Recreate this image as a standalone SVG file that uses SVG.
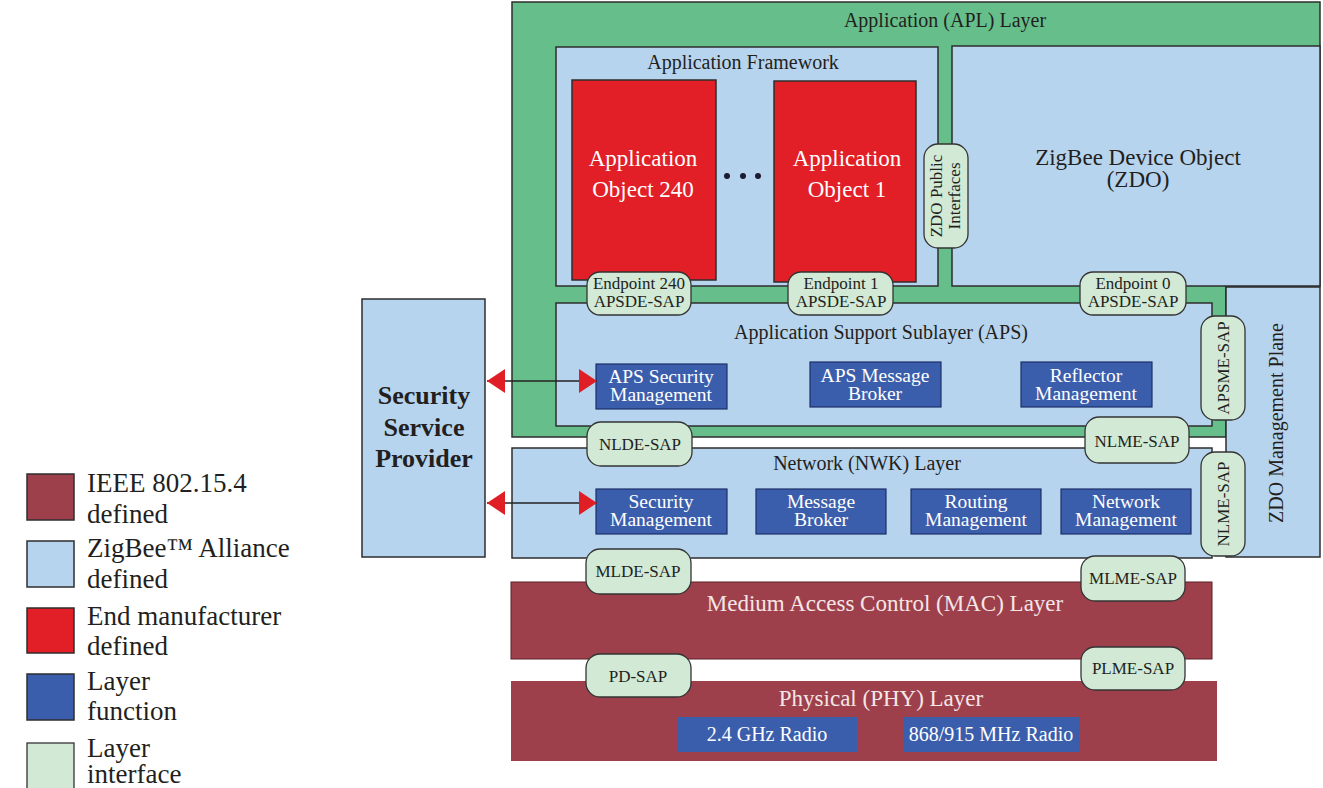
<svg xmlns="http://www.w3.org/2000/svg" width="1323" height="788" viewBox="0 0 1323 788">
<style>
text{font-family:"Liberation Serif","Times New Roman",serif;fill:#231f20}
.box{stroke:#2e2e2e;stroke-width:1.5}
.green{fill:#66bf8b}
.zb{fill:#b7d4ee}
.ieee{fill:#9d404c}
.mfr{fill:#e21e26}
.fn{fill:#3b5eac;stroke:#1c2f66;stroke-width:1.2}
.sap{fill:#d1e9d5;stroke:#333;stroke-width:1.3}
.sapt{font-size:17px;text-anchor:middle}
.fnt{font-size:19.5px;fill:#fff;text-anchor:middle}
.lbl{font-size:20px;text-anchor:middle}
.wt{fill:#fff;text-anchor:middle}
.pt{fill:#f5e6e6;font-size:23px;text-anchor:middle}
.leg{font-size:27px}
.conn{stroke:#222;stroke-width:1.3;fill:none}
</style>
<defs>
<marker id="ah" markerUnits="userSpaceOnUse" markerWidth="18" markerHeight="24" refX="18" refY="12" orient="auto-start-reverse">
<path d="M0,0 L18,12 L0,24 Z" fill="#e01e25"/>
</marker>
</defs>
<rect width="1323" height="788" fill="#fff"/>

<g id="apl-layer">
<path class="green box" d="M512,2 H1320 V286 H1226 V437 H512 Z"/>
<text class="lbl" x="945" y="27">Application (APL) Layer</text>
</g>

<g id="app-framework">
<rect class="zb box" x="556" y="47" width="382" height="239"/>
<text class="lbl" x="743" y="69">Application Framework</text>
</g>

<g id="app-object-240">
<rect class="mfr box" x="572" y="80" width="144" height="200"/>
<text class="wt" x="643" y="166" font-size="23">Application</text>
<text class="wt" x="643" y="197" font-size="23">Object 240</text>
</g>

<g id="dots">
<circle cx="727" cy="176" r="3" fill="#1a1a33"/>
<circle cx="743" cy="176" r="3" fill="#1a1a33"/>
<circle cx="758" cy="176" r="3" fill="#1a1a33"/>
</g>

<g id="app-object-1">
<rect class="mfr box" x="774" y="81" width="142" height="201"/>
<text class="wt" x="847" y="166" font-size="23">Application</text>
<text class="wt" x="847" y="197" font-size="23">Object 1</text>
</g>

<g id="zdo">
<rect class="zb box" x="952" y="46" width="368" height="240"/>
<text x="1138" y="165" font-size="23" text-anchor="middle">ZigBee Device Object</text>
<text x="1138" y="187" font-size="23" text-anchor="middle">(ZDO)</text>
</g>

<g id="aps">
<rect class="zb box" x="556" y="303" width="656" height="123"/>
<text class="lbl" x="881" y="339">Application Support Sublayer (APS)</text>
</g>

<g id="zdo-mgmt-plane">
<rect class="zb box" x="1226" y="287" width="94" height="270"/>
<text class="lbl" transform="translate(1283,423) rotate(-90)">ZDO Management Plane</text>
</g>

<g id="nwk">
<rect class="zb box" x="512" y="448" width="700" height="110"/>
<text class="lbl" x="867" y="470">Network (NWK) Layer</text>
</g>

<g id="mac">
<rect class="ieee" x="511" y="582" width="701" height="77" stroke="#5a2028" stroke-width="1"/>
<text class="pt" x="885" y="611">Medium Access Control (MAC) Layer</text>
</g>

<g id="phy">
<rect class="ieee" x="511" y="681" width="706" height="80"/>
<text class="pt" x="881" y="706">Physical (PHY) Layer</text>
</g>

<g id="radio-24">
<rect x="678" y="717" width="179" height="35" fill="#3b5eac"/>
<text class="wt" x="767" y="741" font-size="20">2.4 GHz Radio</text>
</g>
<g id="radio-868">
<rect x="903" y="717" width="177" height="35" fill="#3b5eac"/>
<text class="wt" x="991" y="741" font-size="20">868/915 MHz Radio</text>
</g>

<g id="aps-security">
<rect class="fn" x="596" y="364" width="131" height="45"/>
<text class="fnt" x="661" y="383">APS Security</text>
<text class="fnt" x="661" y="401">Management</text>
</g>
<g id="aps-message-broker">
<rect class="fn" x="810" y="362" width="131" height="45"/>
<text class="fnt" x="875" y="382">APS Message</text>
<text class="fnt" x="875" y="400">Broker</text>
</g>
<g id="reflector-mgmt">
<rect class="fn" x="1021" y="362" width="131" height="45"/>
<text class="fnt" x="1086" y="382">Reflector</text>
<text class="fnt" x="1086" y="400">Management</text>
</g>

<g id="nwk-security">
<rect class="fn" x="596" y="489" width="131" height="45"/>
<text class="fnt" x="661" y="508">Security</text>
<text class="fnt" x="661" y="526">Management</text>
</g>
<g id="nwk-message-broker">
<rect class="fn" x="756" y="489" width="130" height="45"/>
<text class="fnt" x="821" y="508">Message</text>
<text class="fnt" x="821" y="526">Broker</text>
</g>
<g id="routing-mgmt">
<rect class="fn" x="911" y="489" width="130" height="45"/>
<text class="fnt" x="976" y="508">Routing</text>
<text class="fnt" x="976" y="526">Management</text>
</g>
<g id="network-mgmt">
<rect class="fn" x="1061" y="489" width="130" height="45"/>
<text class="fnt" x="1126" y="508">Network</text>
<text class="fnt" x="1126" y="526">Management</text>
</g>

<g id="ssp">
<rect class="zb box" x="362" y="299" width="123" height="258"/>
<text x="424" y="404" font-size="26" font-weight="bold" text-anchor="middle">Security</text>
<text x="424" y="436" font-size="26" font-weight="bold" text-anchor="middle">Service</text>
<text x="424" y="467" font-size="26" font-weight="bold" text-anchor="middle">Provider</text>
</g>

<g id="sap-ep240">
<rect class="sap" x="587" y="272" width="104" height="43" rx="13"/>
<text class="sapt" x="639" y="289">Endpoint 240</text>
<text class="sapt" x="639" y="307">APSDE-SAP</text>
</g>
<g id="sap-ep1">
<rect class="sap" x="788" y="272" width="105" height="43" rx="13"/>
<text class="sapt" x="841" y="289">Endpoint 1</text>
<text class="sapt" x="841" y="307">APSDE-SAP</text>
</g>
<g id="sap-ep0">
<rect class="sap" x="1080" y="272" width="106" height="43" rx="13"/>
<text class="sapt" x="1133" y="289">Endpoint 0</text>
<text class="sapt" x="1133" y="307">APSDE-SAP</text>
</g>
<g id="sap-zdo-public">
<rect class="sap" x="924" y="144" width="44" height="104" rx="14"/>
<text class="sapt" transform="translate(942,196) rotate(-90)">ZDO Public</text>
<text class="sapt" transform="translate(960,196) rotate(-90)">Interfaces</text>
</g>
<g id="sap-apsme">
<rect class="sap" x="1201" y="316" width="44" height="104" rx="14"/>
<text class="sapt" transform="translate(1229,368) rotate(-90)">APSME-SAP</text>
</g>
<g id="sap-nlde">
<rect class="sap" x="587" y="422" width="105" height="44" rx="14"/>
<text class="sapt" x="640" y="450">NLDE-SAP</text>
</g>
<g id="sap-nlme-h">
<rect class="sap" x="1085" y="417" width="104" height="46" rx="14"/>
<text class="sapt" x="1137" y="447">NLME-SAP</text>
</g>
<g id="sap-nlme-v">
<rect class="sap" x="1201" y="452" width="44" height="104" rx="14"/>
<text class="sapt" transform="translate(1229,504) rotate(-90)">NLME-SAP</text>
</g>
<g id="sap-mlde">
<rect class="sap" x="586" y="549" width="105" height="45" rx="14"/>
<text class="sapt" x="638" y="577" font-size="16">MLDE-SAP</text>
</g>
<g id="sap-mlme">
<rect class="sap" x="1081" y="556" width="104" height="45" rx="14"/>
<text class="sapt" x="1133" y="584" font-size="16">MLME-SAP</text>
</g>
<g id="sap-pd">
<rect class="sap" x="586" y="654" width="105" height="43" rx="14"/>
<text class="sapt" x="638" y="682" font-size="16">PD-SAP</text>
</g>
<g id="sap-plme">
<rect class="sap" x="1081" y="647" width="104" height="43" rx="14"/>
<text class="sapt" x="1133" y="674" font-size="16">PLME-SAP</text>
</g>

<g id="connectors">
<line class="conn" x1="487" y1="381" x2="597" y2="381" marker-start="url(#ah)" marker-end="url(#ah)"/>
<line class="conn" x1="487" y1="503" x2="597" y2="503" marker-start="url(#ah)" marker-end="url(#ah)"/>
</g>

<g id="legend">
<rect class="ieee box" x="27" y="474" width="47" height="46"/>
<text class="leg" x="87" y="492">IEEE 802.15.4</text>
<text class="leg" x="87" y="523">defined</text>
<rect class="zb box" x="27" y="541" width="47" height="46"/>
<text class="leg" x="87" y="557">ZigBee™ Alliance</text>
<text class="leg" x="87" y="588">defined</text>
<rect class="mfr box" x="27" y="608" width="47" height="45"/>
<text class="leg" x="87" y="625">End manufacturer</text>
<text class="leg" x="87" y="655">defined</text>
<rect class="box" fill="#3b5eac" x="27" y="674" width="47" height="46"/>
<text class="leg" x="87" y="690">Layer</text>
<text class="leg" x="87" y="720">function</text>
<rect class="sap" x="27" y="743" width="47" height="46"/>
<text class="leg" x="87" y="757">Layer</text>
<text class="leg" x="87" y="783">interface</text>
</g>
</svg>
